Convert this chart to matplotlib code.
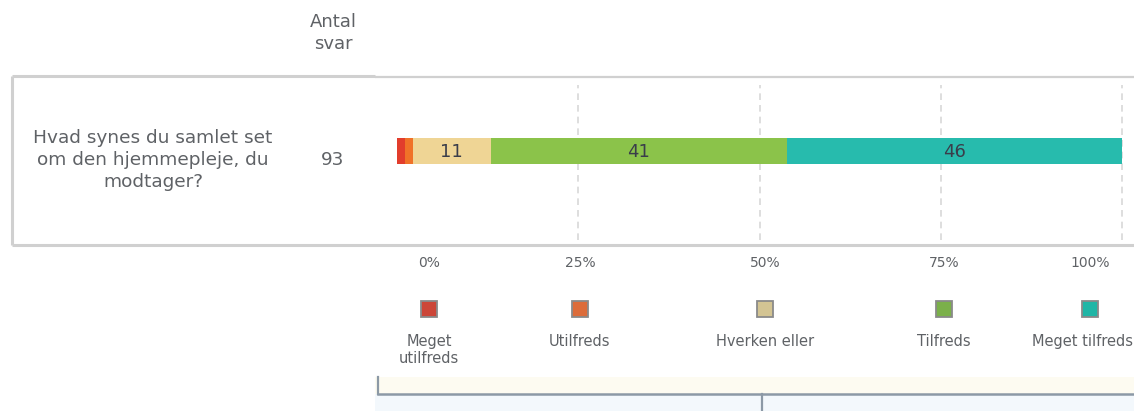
import matplotlib.pyplot as plt
from matplotlib.patches import Rectangle

# data
question = "Hvad synes du samlet set\nom den hjemmepleje, du\nmodtager?"
categories = ["Meget\nutilfreds", "Utilfreds", "Hverken eller", "Tilfreds", "Meget tilfreds"]
counts = [1, 1, 10, 38, 43]
bar_colors = ["#e23d2c", "#f07228", "#efd595", "#8bc34a", "#27bbad"]
legend_colors = ["#cc4638", "#dc6c3a", "#d3c493", "#7bb04a", "#1fb6a6"]
tick_labels = ["0%", "25%", "50%", "75%", "100%"]
grid_pcts = [25, 50, 75, 100]

total = sum(counts)
pcts = [c / total * 100 for c in counts]

W, H = 1134, 411
fig = plt.figure(figsize=(W / 100, H / 100), dpi=100)
txt = "#5f6266"

# background axes in pixel coords for the table frame and legend
bg = fig.add_axes([0, 0, 1, 1], zorder=0)
bg.set_xlim(0, W)
bg.set_ylim(H, 0)
bg.axis("off")

frame = "#d0d0d0"
bg.plot([12, 375], [76, 76], color=frame, lw=2.2, solid_capstyle="butt")
bg.plot([375, W], [77, 77], color=frame, lw=1.6, solid_capstyle="butt")
bg.plot([12, 12], [76, 245], color=frame, lw=2.2, solid_capstyle="butt")
bg.plot([12, W], [245, 245], color=frame, lw=2.2, solid_capstyle="butt")

bg.text(333, 33, "Antal\nsvar", ha="center", va="center", fontsize=13, color=txt, linespacing=1.35)
bg.text(153, 160, question, ha="center", va="center", fontsize=13.3, color=txt, linespacing=1.28)
bg.text(333, 160, str(total), ha="center", va="center", fontsize=13.3, color=txt)

# column positions for tick labels / legend
cols = [429, 580, 765, 944, 1090]
label_x = [429, 580, 765, 944, 1082]
for x, t in zip(cols, tick_labels):
    bg.text(x, 263, t, ha="center", va="center", fontsize=10, color=txt)
for x, lx, c, lab in zip(cols, label_x, legend_colors, categories):
    bg.add_patch(Rectangle((x - 8, 301), 16, 16, facecolor=c, edgecolor="#8a8a8a", lw=1.3))
    bg.text(lx, 334, lab, ha="center", va="top", fontsize=10.5, color=txt, linespacing=1.2)

# faint bottom band and bracket
bg.add_patch(Rectangle((375, 377), W - 375, 17, facecolor="#fdfbf1", edgecolor="none"))
bg.add_patch(Rectangle((375, 394), W - 375, 17, facecolor="#f3f8fc", edgecolor="none"))
brk = "#8c99a6"
bg.plot([378, 378], [377, 394], color=brk, lw=1.6)
bg.plot([378, W], [394, 394], color=brk, lw=1.8)
bg.plot([762, 762], [394, 411], color=brk, lw=1.6)

# stacked bar
x0, x1 = 397, 1122
top, bottom = 85, 240
ax = fig.add_axes([x0 / W, 1 - bottom / H, (x1 - x0) / W, (bottom - top) / H], zorder=1)
ax.patch.set_alpha(0)
ax.set_xlim(0, 100)
ax.set_ylim(-(bottom - 151) / 26, (151 - top) / 26)
for g in grid_pcts:
    ax.axvline(g, color="#d8d8d8", lw=1.2, ls=(0, (4, 3)), zorder=0, clip_on=False)
left = 0
for p, c in zip(pcts, bar_colors):
    ax.barh(0, p, left=left, height=1, color=c, edgecolor="none", zorder=2)
    if p >= 5:
        ax.text(left + p / 2, -0.05, f"{p:.0f}", ha="center", va="center",
                fontsize=13, color="#3a3d4a", zorder=3)
    left += p
ax.axis("off")

fig.savefig("out.png", dpi=100)
